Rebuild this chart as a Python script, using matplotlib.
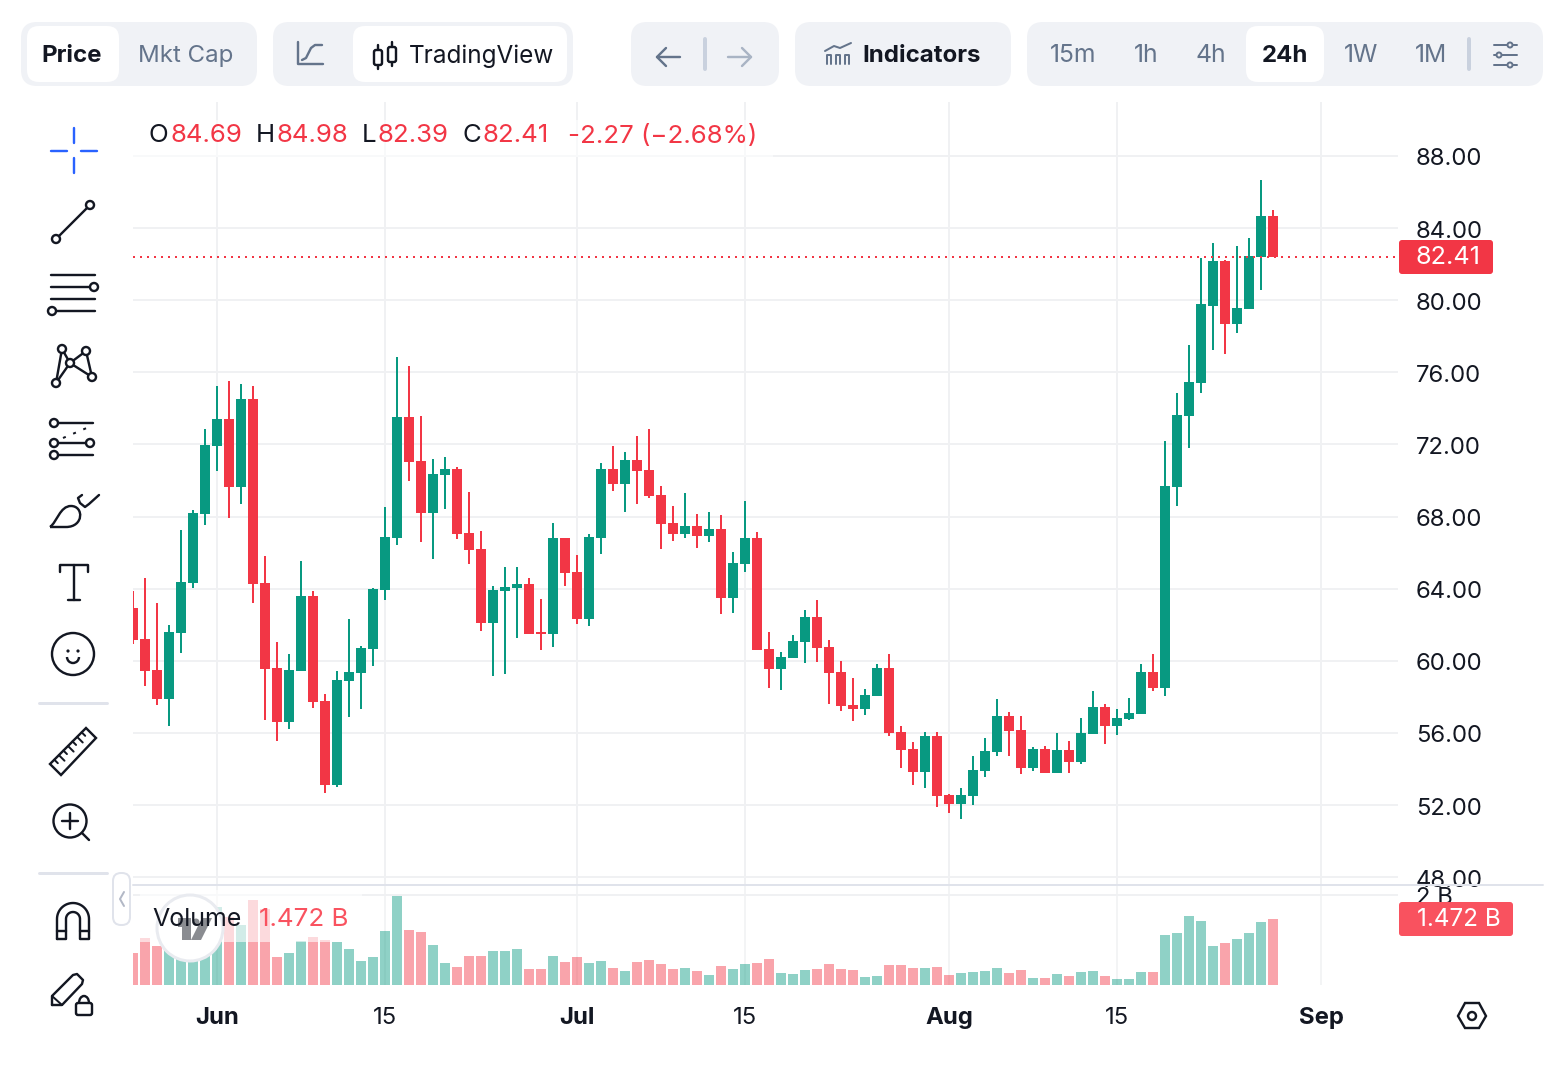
import matplotlib
matplotlib.use("Agg")
import matplotlib.pyplot as plt
import numpy as np
from matplotlib.patches import FancyBboxPatch, Circle, Rectangle, Polygon, PathPatch, Arc
from matplotlib.path import Path
from matplotlib.transforms import ScaledTranslation

opens = [62.93, 61.21, 59.49, 57.88, 61.54, 64.32, 68.14, 71.92, 73.41, 69.64, 74.52, 64.32,
         59.60, 56.61, 59.44, 63.60, 57.77, 53.11, 58.88, 59.33, 60.66, 63.93, 66.81, 73.52,
         71.08, 68.20, 70.31, 70.64, 67.09, 66.21, 62.10, 63.88, 64.04, 64.26, 61.60, 61.49,
         66.81, 64.93, 62.32, 66.81, 70.64, 69.81, 71.14, 70.59, 69.20, 67.65, 67.04, 67.48,
         66.93, 67.31, 63.48, 65.37, 66.81, 60.66, 59.55, 60.16, 61.05, 62.43, 60.77, 59.38,
         57.55, 57.33, 58.05, 59.60, 56.05, 55.11, 53.84, 55.83, 52.56, 52.06, 52.50, 53.89,
         54.94, 56.93, 56.16, 54.06, 55.10, 53.79, 55.05, 54.40, 55.94, 57.43, 56.39, 56.77,
         57.05, 59.38, 58.49, 69.63, 73.56, 75.40, 79.67, 82.17, 78.68, 79.50, 82.39, 84.69]
highs = [63.87, 64.59, 63.21, 61.99, 67.26, 68.37, 72.86, 75.24, 75.52, 75.35, 75.24, 65.81,
         61.05, 60.38, 65.54, 63.87, 58.16, 59.44, 62.32, 60.82, 64.04, 68.53, 76.85, 76.35,
         73.58, 71.20, 71.31, 70.75, 69.37, 67.20, 64.15, 65.21, 65.21, 64.60, 63.43, 67.65,
         66.81, 65.87, 67.04, 70.98, 71.92, 71.59, 72.47, 72.86, 69.70, 68.59, 69.31, 68.15,
         68.26, 68.09, 66.04, 68.86, 67.15, 61.60, 60.49, 61.43, 62.82, 63.37, 61.15, 59.99,
         59.05, 58.44, 59.82, 60.38, 56.39, 55.50, 56.05, 56.05, 52.61, 52.95, 54.72, 55.72,
         57.88, 57.16, 56.93, 55.21, 55.28, 56.00, 55.55, 56.82, 58.34, 57.61, 57.32, 57.93,
         59.83, 60.37, 72.19, 74.85, 77.50, 82.37, 83.16, 82.23, 83.00, 83.43, 86.67, 84.98]
lows = [60.93, 58.60, 57.55, 56.39, 60.44, 64.04, 67.53, 70.53, 67.92, 68.70, 63.21, 56.72,
        55.55, 56.22, 59.44, 57.38, 52.67, 53.00, 56.89, 57.33, 59.71, 63.38, 66.42, 69.97,
        66.59, 65.65, 68.42, 66.76, 65.37, 61.66, 59.16, 59.27, 61.27, 61.49, 60.60, 60.77,
        64.15, 62.05, 61.93, 65.93, 69.42, 68.26, 68.70, 69.03, 66.21, 66.65, 66.81, 66.26,
        66.59, 62.60, 62.65, 64.93, 60.60, 58.49, 58.38, 60.16, 59.88, 59.94, 57.61, 57.21,
        56.66, 57.00, 58.05, 55.83, 54.05, 53.11, 52.95, 51.89, 51.56, 51.23, 52.00, 53.56,
        54.72, 54.72, 53.72, 53.90, 53.79, 53.79, 53.79, 54.28, 55.94, 55.39, 55.89, 56.73,
        57.05, 58.34, 58.04, 68.59, 71.80, 74.85, 77.23, 77.00, 78.18, 79.50, 80.56, 82.39]
closes = [61.16, 59.44, 57.88, 61.60, 64.37, 68.20, 71.97, 73.41, 69.64, 74.52, 64.26, 59.55,
          56.61, 59.49, 63.60, 57.72, 53.11, 58.94, 59.38, 60.71, 63.98, 66.87, 73.52, 71.03,
          68.20, 70.36, 70.64, 67.04, 66.15, 62.10, 63.93, 64.10, 64.26, 61.49, 61.49, 66.81,
          64.87, 62.32, 66.87, 70.64, 69.81, 71.14, 70.53, 69.14, 67.59, 67.04, 67.48, 66.93,
          67.31, 63.48, 65.43, 66.81, 60.60, 59.55, 60.21, 61.10, 62.43, 60.71, 59.33, 57.49,
          57.33, 58.10, 59.60, 56.00, 55.05, 53.84, 55.83, 52.50, 52.06, 52.56, 53.95, 55.00,
          56.94, 56.12, 54.06, 55.10, 53.79, 55.05, 54.40, 56.00, 57.43, 56.39, 56.82, 57.11,
          59.38, 58.49, 69.70, 73.63, 75.47, 79.79, 82.17, 78.68, 79.56, 82.44, 84.66, 82.41]
volumes = [0.711, 1.044, 0.867, 0.80, 0.75, 0.80, 1.00, 1.733, 1.52, 1.333, 1.889, 1.69,
           0.622, 0.711, 0.978, 1.067, 1.00, 0.956, 0.80, 0.533, 0.622, 1.20, 1.978, 1.222,
           1.178, 0.889, 0.489, 0.40, 0.644, 0.644, 0.756, 0.756, 0.80, 0.356, 0.356, 0.644,
           0.511, 0.622, 0.489, 0.533, 0.378, 0.311, 0.511, 0.556, 0.467, 0.356, 0.378, 0.311,
           0.222, 0.422, 0.356, 0.467, 0.489, 0.578, 0.267, 0.244, 0.333, 0.356, 0.467, 0.356,
           0.333, 0.178, 0.20, 0.444, 0.444, 0.378, 0.378, 0.40, 0.222, 0.267, 0.289, 0.311,
           0.378, 0.267, 0.333, 0.156, 0.156, 0.244, 0.20, 0.289, 0.311, 0.20, 0.133, 0.133,
           0.289, 0.289, 1.111, 1.156, 1.533, 1.422, 0.867, 0.933, 1.022, 1.156, 1.40, 1.472]

price_ticks = [88, 84, 80, 76, 72, 68, 64, 60, 56, 52, 48]
date_ticks = [7, 21, 37, 51, 68, 82, 99]
date_labels = ["Jun", "15", "Jul", "15", "Aug", "15", "Sep"]
last_price = 82.41
last_volume = "1.472 B"

W, H = 1556, 1072
UP = "#089981"
DOWN = "#f23645"
GRID = "#f0f1f3"
DARK = "#131722"
SLATE = "#64748b"
PILL = "#f0f2f6"
PX = 0.72

plt.rcParams["font.family"] = ["Inter", "DejaVu Sans"]

fig = plt.figure(figsize=(W / 100, H / 100), dpi=100, facecolor="white")


def pane(x0, y0, x1, y1):
    a = fig.add_axes([x0 / W, 1 - y1 / H, (x1 - x0) / W, (y1 - y0) / H])
    for s in a.spines.values():
        s.set_visible(False)
    a.set_xlim(0, (x1 - x0) / 12)
    a.set_axisbelow(True)
    a.yaxis.tick_right()
    a.tick_params(length=0, pad=13, labelsize=17.2, labelcolor=DARK)
    a.grid(True, color=GRID, lw=2 * PX)
    a.set_xticks(date_ticks)
    return a


x = np.arange(len(opens))
op = np.array(opens)
cl = np.array(closes)
colors = [DOWN if c < o else UP for o, c in zip(op, cl)]

ax = pane(133, 102, 1398, 885)
ax.set_ylim(88 - (885 - 156) / 18.03, 88 + (156 - 102) / 18.03)
ax.set_yticks(price_ticks)
ax.set_yticklabels(["%.2f" % p for p in price_ticks])
ax.tick_params(labelbottom=False)
nudge = ScaledTranslation(0, -1 / 100, fig.dpi_scale_trans)
for lab in ax.get_yticklabels():
    lab.set_transform(lab.get_transform() + nudge)
ax.vlines(x, lows, highs, colors=colors, lw=2 * PX, zorder=2)
ax.bar(x, np.maximum(np.abs(cl - op), 0.1), bottom=np.minimum(op, cl), width=10 / 12, color=colors, zorder=3)
ax.axhline(last_price, color=DOWN, lw=2 * PX, ls=(0, (1, 2.5)), zorder=4)

vol = pane(133, 885, 1398, 985)
vol.set_ylim(0, 100 / 45)
vol.set_yticks([2])
vol.set_yticklabels(["2 B"])
vol.grid(True, axis="x", color=GRID, lw=1.5 * PX)
vol.bar(x, volumes, width=10 / 12, color=colors, alpha=0.45, zorder=3)
vol.set_xticklabels(date_labels)
vol.tick_params(axis="x", pad=15.5)
for lab, t in zip(vol.get_xticklabels(), date_labels):
    if not t.isdigit():
        lab.set_fontweight("bold")

# everything around the chart is drawn in pixel coordinates on a top layer
ui = fig.add_axes([0, 0, 1, 1], facecolor="none")
ui.set_xlim(0, W)
ui.set_ylim(H, 0)
ui.axis("off")


def box(x0, y0, x1, y1, r, fc, ec="none", lw=0, alpha=None, z=2):
    ui.add_patch(FancyBboxPatch((x0, y0), x1 - x0, y1 - y0, boxstyle="round,pad=0,rounding_size=%s" % r,
                                fc=fc, ec=ec, lw=lw * PX, alpha=alpha, zorder=z))


def line(pts, c=DARK, w=2.4, z=5, **kw):
    xs, ys = zip(*pts)
    ui.plot(xs, ys, color=c, lw=w * PX, zorder=z, solid_capstyle="round", solid_joinstyle="round", **kw)


def dot(cx, cy, r, c=DARK, w=2.4, fc="white", z=6):
    ui.add_patch(Circle((cx, cy), r, fc=fc, ec=c, lw=w * PX, zorder=z))


def label(px, py, s, c=DARK, size=17.3, weight="normal", ha="center", z=7):
    ui.text(px, py + 2, s, color=c, fontsize=size, fontweight=weight, ha=ha, va="center", zorder=z)


# top bar
box(21, 22, 257, 86, 16, PILL)
box(27, 26, 119, 82, 12, "white")
label(72, 54, "Price", weight="bold")
label(186, 54, "Mkt Cap", c=SLATE)
box(273, 22, 573, 86, 16, PILL)
box(353, 26, 567, 82, 12, "white")
line([(298, 42), (298, 64), (323, 64)], SLATE)
line([(302, 60), (306, 58), (311, 48), (315, 45), (322, 45)], SLATE)
for cx, y0, y1 in [(378, 50, 65), (392, 47, 62)]:
    line([(cx, y0 - 5), (cx, y1 + 4)], w=2.4)
    box(cx - 4, y0, cx + 4, y1, 2, "white", ec=DARK, lw=2.4, z=6)
label(409, 54, "TradingView", ha="left", size=17.5)
box(631, 22, 779, 86, 16, PILL)
line([(680, 57), (657, 57)], SLATE)
line([(666, 48), (657, 57), (666, 66)], SLATE)
line([(705, 39), (705, 69)], "#c9d1de", w=4)
line([(728, 57), (751, 57)], "#a9b4c4")
line([(742, 48), (751, 57), (742, 66)], "#a9b4c4")
box(795, 22, 1011, 86, 16, PILL)
for bx in [827, 836, 845]:
    line([(bx, 64), (bx, 55), (bx + 4, 55), (bx + 4, 64)], SLATE, w=2)
line([(825, 51), (834, 46), (840, 48), (851, 43)], SLATE, w=2)
label(862, 54, "Indicators", weight="bold", ha="left")
box(1027, 22, 1543, 86, 16, PILL)
box(1246, 26, 1324, 82, 12, "white")
for cx, s in [(1073, "15m"), (1146, "1h"), (1211, "4h"), (1361, "1W"), (1431, "1M")]:
    label(cx, 54, s, c=SLATE, size=17.8)
label(1285, 54, "24h", weight="bold")
line([(1469, 39), (1469, 69)], "#c9d1de", w=4)
for sy, sx in [(45, 1510), (55, 1499), (65, 1510)]:
    line([(1494, sy), (1517, sy)], SLATE, w=2)
    dot(sx, sy, 2.5, c=SLATE, w=2, fc=PILL)

# left toolbar
BLUE = "#2962ff"
line([(74, 128), (74, 143)], BLUE, w=2.4)
line([(74, 158), (74, 173)], BLUE, w=2.4)
line([(51, 151), (67, 151)], BLUE, w=2.4)
line([(81, 151), (97, 151)], BLUE, w=2.4)
line([(56, 239), (90, 205)])
dot(56, 239, 4)
dot(90, 205, 4)
for ly in [275, 287, 299, 311]:
    line([(51, ly), (95, ly)])
dot(94, 287, 4)
dot(52, 311, 4)
nodes = [(62, 349), (86, 351), (70, 363), (92, 377), (56, 383)]
for a, b in [(0, 4), (0, 2), (2, 4), (2, 1), (2, 3), (1, 3)]:
    line([nodes[a], nodes[b]])
for n in nodes:
    dot(n[0], n[1], 4)
for ly in [423, 443, 455]:
    line([(54, ly), (93, ly)])
    dot(54, ly, 4)
dot(90, 443, 4)
ui.plot([63, 89], [438, 427], color=DARK, lw=2 * PX, ls=(0, (1.5, 4)), zorder=5)
leaf = Path([(50, 527), (57, 522), (60, 506), (71, 506), (84, 506), (84, 527), (66, 527), (50, 527)],
            [Path.MOVETO, Path.CURVE4, Path.CURVE4, Path.CURVE4, Path.CURVE4, Path.CURVE4, Path.CURVE4, Path.LINETO])
ui.add_patch(PathPatch(leaf, fc="none", ec=DARK, lw=2.4 * PX, zorder=5))
line([(82, 495), (78, 498), (80, 503), (85, 507), (89, 504), (99, 495)])
line([(60, 572), (60, 565), (88, 565), (88, 572)])
line([(74, 565), (74, 600)])
line([(68, 600), (80, 600)])
dot(73, 654, 21)
ui.add_patch(Circle((68, 651), 1.6, fc=DARK, zorder=6))
ui.add_patch(Circle((78, 651), 1.6, fc=DARK, zorder=6))
ui.add_patch(Arc((73, 657), 12, 12, theta1=0, theta2=180, ec=DARK, lw=2.4 * PX, zorder=6))
line([(39, 703), (107, 703)], "#e0e3eb", w=3)
ui.add_patch(Polygon([(86, 728), (96, 738), (61, 775), (50, 764)], closed=True, fc="none", ec=DARK, lw=2.4 * PX, zorder=5))
for t, d in zip(np.linspace(0.12, 0.88, 7), [5, 8, 5, 8, 5, 8, 5]):
    px0, py0 = 50 + t * 36, 764 - t * 36
    line([(px0, py0), (px0 + d * 0.7, py0 + d * 0.7)], w=2)
dot(70, 821, 16.5, fc="none")
line([(62, 821), (78, 821)])
line([(70, 813), (70, 829)])
line([(82, 833), (89, 840)])
line([(39, 873), (107, 873)], "#e0e3eb", w=3)
th = np.radians(np.linspace(180, 0, 30))
outer = [(73 + 16 * np.cos(t), 919 - 16 * np.sin(t)) for t in th]
inner = [(73 + 7 * np.cos(t), 919 - 7 * np.sin(t)) for t in th]
line([(57, 939), (57, 919)] + outer + [(89, 939), (80, 939), (80, 919)] + inner[::-1] + [(66, 939), (57, 939)])
line([(57, 931), (66, 931)])
line([(80, 931), (89, 931)])
line([(52, 1005), (52, 996), (73, 975), (77, 974), (83, 980), (82, 984), (62, 1005), (52, 1005)])
line([(52, 996), (62, 1005)], w=2)
box(76, 1003, 92, 1015, 2, "white", ec=DARK, lw=2.4, z=6)
ui.add_patch(Arc((84, 1003), 10, 14, theta1=180, theta2=360, ec=DARK, lw=2.4 * PX, zorder=6))
line([(84, 1008), (84, 1011)], w=2)

# chart legends, watermark, tags
ui.add_patch(Rectangle((133, 120), 640, 37, fc="white", alpha=0.6, ec="none", zorder=1))
for px, s, c in [(149, "O", DARK), (171, "84.69", DOWN), (256, "H", DARK), (277, "84.98", DOWN),
                 (362, "L", DARK), (378, "82.39", DOWN), (463, "C", DARK), (483, "82.41", DOWN),
                 (568, "-2.27 (\u22122.68%)", DOWN)]:
    label(px, 134, s, c=c, size=18.6, ha="left")
line([(133, 885), (1543, 885)], "#e0e3eb", w=2, z=1)
ui.add_patch(Rectangle((140, 890), 222, 52, fc="white", alpha=0.6, ec="none", zorder=1))
ui.add_patch(Circle((190, 928), 33, fc="white", ec="#e9ebf0", lw=3 * PX, zorder=2))
LOGO = "#8a8c91"
ui.add_patch(Polygon([(178, 918), (191, 918), (191, 940), (182, 940), (182, 927), (178, 927)], fc=LOGO, zorder=3))
ui.add_patch(Circle((196, 922), 3.5, fc=LOGO, zorder=3))
ui.add_patch(Polygon([(202, 918), (212, 918), (201, 940), (191, 940)], fc=LOGO, zorder=3))
label(152, 918, "Volume", size=18, ha="left")
label(259, 918, last_volume, c="#f9525f", size=18.7, ha="left")
box(113, 873, 130, 925, 8, "white", ec="#e0e3eb", lw=2)
line([(124, 892), (120, 899), (124, 906)], "#b2b8c6", w=2)
box(1399, 240, 1493, 274, 3, DOWN)
label(1448, 256, "%.2f" % last_price, c="white", size=18.2)
box(1399, 902, 1513, 936, 3, "#f9525f")
label(1459, 918, last_volume, c="white", size=17.5)
ui.add_patch(Polygon([(1458, 1016), (1465, 1003), (1479, 1003), (1486, 1016), (1479, 1028), (1465, 1028)],
                     closed=True, fc="none", ec=DARK, lw=2.4 * PX, zorder=5))
dot(1472, 1016, 4)

fig.savefig("out.png", dpi=100)
